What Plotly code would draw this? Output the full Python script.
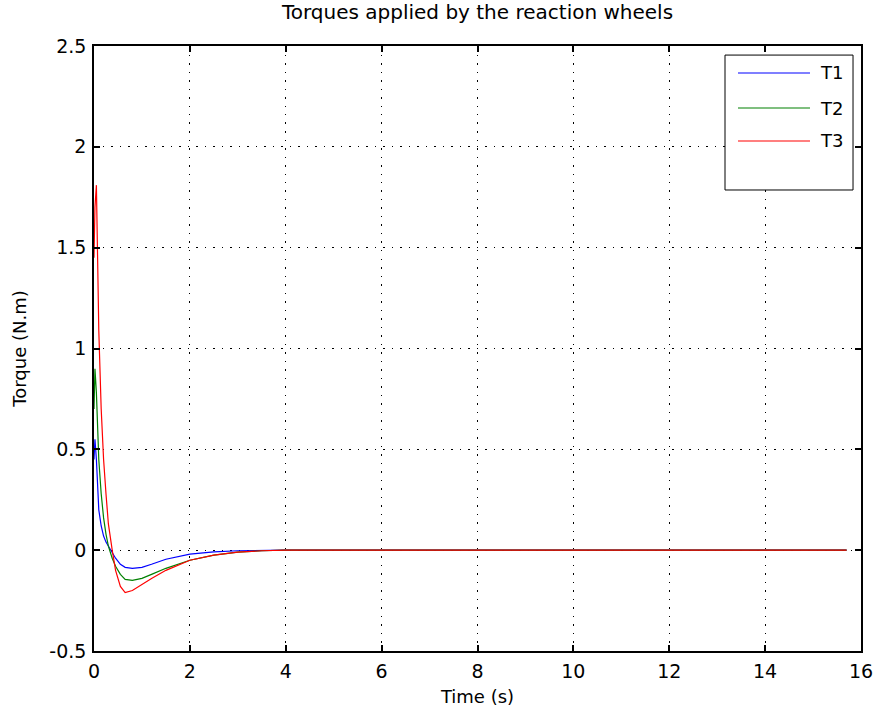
import plotly.graph_objects as go

# Sample times (s) and reaction-wheel torques (N.m)
time_s = [0, 0.02, 0.05, 0.07, 0.1, 0.15, 0.2, 0.25, 0.3, 0.38, 0.45, 0.55,
          0.65, 0.8, 1.0, 1.2, 1.5, 2.0, 2.5, 3.0, 3.5, 4.0, 6, 8, 10, 12, 14, 15.7]
torque_t1 = [0.45, 0.55, 0.45, 0.32, 0.2, 0.12, 0.07, 0.04, 0.02, -0.01, -0.04, -0.07,
             -0.085, -0.09, -0.085, -0.07, -0.045, -0.02, -0.008, -0.003, 0, 0, 0, 0, 0, 0, 0, 0]
torque_t2 = [0.7, 0.9, 0.78, 0.62, 0.45, 0.28, 0.16, 0.08, 0.02, -0.04, -0.08, -0.12,
             -0.145, -0.15, -0.14, -0.12, -0.09, -0.05, -0.025, -0.01, -0.003, 0, 0, 0, 0, 0, 0, 0]
torque_t3 = [1.45, 1.7, 1.81, 1.42, 1.09, 0.7, 0.45, 0.28, 0.13, 0.0, -0.1, -0.18,
             -0.21, -0.2, -0.17, -0.14, -0.1, -0.05, -0.025, -0.01, -0.003, 0, 0, 0, 0, 0, 0, 0]

series_names = ["T1", "T2", "T3"]
series_values = [torque_t1, torque_t2, torque_t3]
series_colors = ["#0000ff", "#008000", "#ff0000"]

x_ticks = [0, 2, 4, 6, 8, 10, 12, 14, 16]
y_ticks = [-0.5, 0, 0.5, 1, 1.5, 2, 2.5]
y_tick_text = ["-0.5", "0", "0.5", "1", "1.5", "2", "2.5"]

font_family = "DejaVu Sans, Verdana, sans-serif"

fig = go.Figure()
for name, values, color in zip(series_names, series_values, series_colors):
    fig.add_trace(go.Scatter(
        x=time_s, y=values, name=name, mode="lines",
        line=dict(color=color, width=1.2),
        showlegend=False,
    ))

axis_common = dict(
    showline=True, linecolor="black", linewidth=1.5, mirror="ticks",
    ticks="inside", ticklen=6, tickwidth=1.5, tickcolor="black",
    showgrid=True, gridcolor="black", griddash="1.5px,7px", gridwidth=1,
    zeroline=False, automargin=False,
    tickfont=dict(family=font_family, size=19, color="black"),
)

# Boxed legend in the upper-right corner of the axes (paper coordinates)
legend_box = dict(x0=0.8227, x1=0.9896, y0=0.762, y1=0.985)
legend_rows = [0.9554, 0.8975, 0.843]
sample_x = (0.8396, 0.9335)
label_x = 0.944

shapes = [dict(type="rect", xref="paper", yref="paper",
               x0=legend_box["x0"], x1=legend_box["x1"],
               y0=legend_box["y0"], y1=legend_box["y1"],
               line=dict(color="black", width=1), fillcolor="white", layer="above")]
annotations = []
for name, color, row in zip(series_names, series_colors, legend_rows):
    shapes.append(dict(type="line", xref="paper", yref="paper",
                       x0=sample_x[0], x1=sample_x[1], y0=row, y1=row,
                       line=dict(color=color, width=1.2), layer="above"))
    annotations.append(dict(xref="paper", yref="paper", x=label_x, y=row,
                            xanchor="left", yanchor="middle", showarrow=False,
                            text=name,
                            font=dict(family=font_family, size=18, color="black")))

fig.update_layout(
    width=876, height=715,
    paper_bgcolor="white", plot_bgcolor="white",
    margin=dict(l=94, r=15, t=46, b=64),
    title=dict(text="Torques applied by the reaction wheels",
               xref="paper", x=0.5, xanchor="center",
               yref="container", y=0.983, yanchor="middle",
               font=dict(family=font_family, size=20, color="black")),
    xaxis=dict(range=[0, 16], tickvals=x_ticks, ticklabelstandoff=2,
               title=dict(text="Time (s)", standoff=10,
                          font=dict(family=font_family, size=18, color="black")),
               **axis_common),
    yaxis=dict(range=[-0.5, 2.5], tickvals=y_ticks, ticktext=y_tick_text,
               ticklabelstandoff=2,
               title=dict(text="Torque (N.m)", standoff=18,
                          font=dict(family=font_family, size=18, color="black")),
               **axis_common),
    shapes=shapes,
    annotations=annotations,
    showlegend=False,
)

fig.write_html("out.html")
